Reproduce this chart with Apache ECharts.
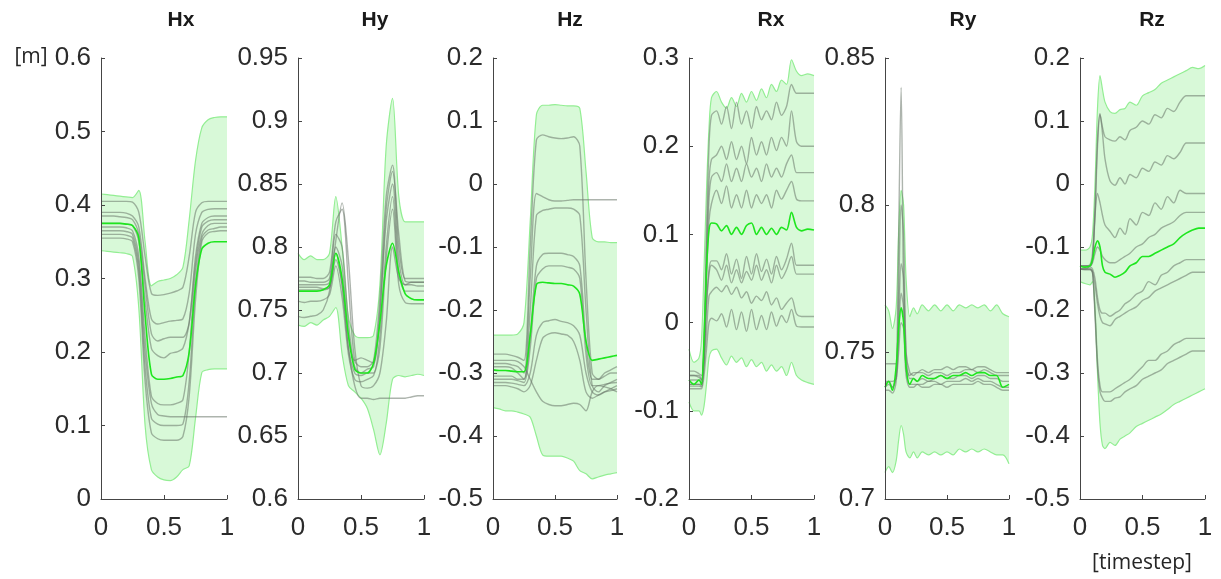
<!DOCTYPE html>
<html>
<head>
<meta charset="utf-8">
<script src="https://cdn.jsdelivr.net/npm/echarts@6/dist/echarts.min.js"></script>
<style>
html, body { margin: 0; background: #fff; }
#chart { width: 1221px; height: 579px; }
</style>
</head>
<body>
<div id="chart"></div>
<script>
// timestep samples
var xsH = [0, 0.05, 0.1, 0.15, 0.2, 0.25, 0.3, 0.35, 0.4, 0.45, 0.5, 0.55, 0.6, 0.65, 0.7, 0.75, 0.8, 0.85, 0.9, 0.95, 1];
var xsRx = [0, 0.04, 0.08, 0.1, 0.12, 0.14, 0.16, 0.18, 0.22, 0.26, 0.3, 0.34, 0.38, 0.42, 0.46, 0.5, 0.54, 0.58, 0.62, 0.66, 0.7, 0.74, 0.78, 0.82, 0.86, 0.9, 0.95, 1];
var xsRy = [0, 0.03, 0.06, 0.09, 0.11, 0.13, 0.15, 0.17, 0.2, 0.23, 0.26, 0.3, 0.35, 0.4, 0.45, 0.5, 0.55, 0.6, 0.65, 0.7, 0.75, 0.8, 0.85, 0.9, 0.95, 1];
var xsRz = [0, 0.04, 0.08, 0.1, 0.12, 0.14, 0.16, 0.18, 0.2, 0.24, 0.28, 0.32, 0.36, 0.4, 0.45, 0.5, 0.55, 0.6, 0.65, 0.7, 0.75, 0.8, 0.85, 0.9, 0.95, 1];

// Hx
var hxUpper = [0.415, 0.414, 0.413, 0.412, 0.411, 0.41, 0.42, 0.35, 0.29, 0.296, 0.298, 0.3, 0.305, 0.315, 0.38, 0.46, 0.505, 0.516, 0.519, 0.52, 0.52];
var hxLower = [0.338, 0.337, 0.336, 0.335, 0.334, 0.33, 0.26, 0.1, 0.04, 0.03, 0.026, 0.025, 0.03, 0.04, 0.045, 0.11, 0.172, 0.176, 0.177, 0.177, 0.177];
var hxMean = [0.375, 0.375, 0.375, 0.375, 0.374, 0.372, 0.355, 0.25, 0.17, 0.163, 0.163, 0.164, 0.166, 0.168, 0.2, 0.29, 0.34, 0.348, 0.35, 0.35, 0.35];
var hxGray = [
    [0.405, 0.405, 0.405, 0.405, 0.405, 0.404, 0.39, 0.33, 0.28, 0.277, 0.278, 0.28, 0.283, 0.288, 0.33, 0.39, 0.403, 0.405, 0.405, 0.405, 0.405],
    [0.39, 0.39, 0.39, 0.39, 0.389, 0.385, 0.37, 0.3, 0.245, 0.238, 0.24, 0.242, 0.243, 0.245, 0.28, 0.36, 0.39, 0.394, 0.395, 0.395, 0.395],
    [0.385, 0.385, 0.385, 0.384, 0.383, 0.38, 0.36, 0.29, 0.225, 0.215, 0.218, 0.22, 0.22, 0.22, 0.24, 0.33, 0.375, 0.383, 0.385, 0.385, 0.385],
    [0.375, 0.375, 0.375, 0.375, 0.374, 0.372, 0.35, 0.27, 0.205, 0.195, 0.192, 0.198, 0.2, 0.205, 0.24, 0.32, 0.37, 0.378, 0.38, 0.38, 0.38],
    [0.37, 0.37, 0.37, 0.37, 0.369, 0.365, 0.33, 0.22, 0.14, 0.13, 0.128, 0.128, 0.13, 0.135, 0.2, 0.31, 0.36, 0.372, 0.375, 0.375, 0.375],
    [0.365, 0.365, 0.365, 0.365, 0.364, 0.36, 0.32, 0.2, 0.13, 0.115, 0.113, 0.112, 0.112, 0.112, 0.112, 0.112, 0.112, 0.112, 0.112, 0.112, 0.112],
    [0.36, 0.36, 0.36, 0.36, 0.359, 0.355, 0.31, 0.18, 0.11, 0.102, 0.1, 0.1, 0.1, 0.102, 0.16, 0.29, 0.355, 0.366, 0.368, 0.37, 0.37],
    [0.355, 0.355, 0.355, 0.355, 0.354, 0.35, 0.3, 0.16, 0.09, 0.082, 0.08, 0.08, 0.08, 0.085, 0.14, 0.27, 0.35, 0.362, 0.364, 0.365, 0.365]
];

// Hy
var hyUpper = [0.795, 0.79, 0.793, 0.79, 0.79, 0.795, 0.84, 0.8, 0.745, 0.73, 0.728, 0.728, 0.73, 0.77, 0.88, 0.918, 0.84, 0.82, 0.82, 0.82, 0.82];
var hyLower = [0.738, 0.737, 0.74, 0.738, 0.742, 0.745, 0.752, 0.715, 0.69, 0.685, 0.68, 0.672, 0.655, 0.635, 0.66, 0.695, 0.698, 0.697, 0.698, 0.699, 0.698];
var hyMean = [0.765, 0.765, 0.765, 0.765, 0.766, 0.77, 0.795, 0.775, 0.73, 0.703, 0.7, 0.7, 0.708, 0.74, 0.785, 0.803, 0.78, 0.763, 0.759, 0.758, 0.758];
var hyGray = [
    [0.776, 0.776, 0.776, 0.775, 0.775, 0.78, 0.82, 0.83, 0.77, 0.71, 0.705, 0.705, 0.71, 0.76, 0.84, 0.865, 0.8, 0.775, 0.775, 0.775, 0.775],
    [0.773, 0.773, 0.772, 0.772, 0.772, 0.775, 0.81, 0.8, 0.74, 0.705, 0.7, 0.703, 0.705, 0.745, 0.83, 0.86, 0.81, 0.773, 0.772, 0.772, 0.772],
    [0.77, 0.77, 0.77, 0.77, 0.77, 0.772, 0.8, 0.785, 0.73, 0.71, 0.712, 0.71, 0.708, 0.75, 0.82, 0.85, 0.79, 0.77, 0.77, 0.769, 0.769],
    [0.768, 0.768, 0.768, 0.768, 0.767, 0.768, 0.79, 0.77, 0.72, 0.7, 0.698, 0.7, 0.7, 0.73, 0.8, 0.84, 0.78, 0.765, 0.765, 0.765, 0.765],
    [0.757, 0.756, 0.757, 0.757, 0.758, 0.762, 0.785, 0.76, 0.715, 0.695, 0.693, 0.695, 0.698, 0.72, 0.79, 0.83, 0.77, 0.756, 0.755, 0.755, 0.755],
    [0.745, 0.744, 0.745, 0.746, 0.75, 0.765, 0.805, 0.835, 0.79, 0.72, 0.69, 0.688, 0.69, 0.7, 0.74, 0.8, 0.775, 0.77, 0.772, 0.772, 0.772],
    [0.766, 0.766, 0.766, 0.766, 0.766, 0.768, 0.795, 0.77, 0.72, 0.69, 0.68, 0.68, 0.679, 0.68, 0.68, 0.68, 0.68, 0.68, 0.681, 0.682, 0.682]
];

// Hz
var hzUpper = [-0.24, -0.24, -0.24, -0.24, -0.238, -0.22, -0.06, 0.11, 0.125, 0.125, 0.126, 0.125, 0.124, 0.124, 0.12, 0.02, -0.085, -0.092, -0.092, -0.093, -0.093];
var hzLower = [-0.355, -0.357, -0.36, -0.36, -0.362, -0.365, -0.37, -0.4, -0.43, -0.432, -0.432, -0.432, -0.435, -0.44, -0.455, -0.46, -0.468, -0.465, -0.462, -0.46, -0.458];
var hzMean = [-0.295, -0.296, -0.296, -0.297, -0.298, -0.298, -0.24, -0.16, -0.156, -0.157, -0.158, -0.158, -0.16, -0.162, -0.175, -0.25, -0.28, -0.278, -0.276, -0.274, -0.272];
var hzGray = [
    [-0.27, -0.27, -0.27, -0.272, -0.275, -0.28, -0.1, 0.07, 0.078, 0.075, 0.073, 0.072, 0.073, 0.075, 0.06, -0.15, -0.3, -0.31, -0.3, -0.295, -0.29],
    [-0.285, -0.285, -0.285, -0.287, -0.29, -0.3, -0.15, -0.015, -0.02, -0.025, -0.027, -0.027, -0.026, -0.025, -0.025, -0.025, -0.025, -0.025, -0.025, -0.025, -0.025],
    [-0.29, -0.29, -0.29, -0.292, -0.3, -0.31, -0.2, -0.05, -0.042, -0.04, -0.038, -0.038, -0.038, -0.04, -0.05, -0.2, -0.32, -0.33, -0.32, -0.315, -0.31],
    [-0.305, -0.305, -0.305, -0.305, -0.31, -0.31, -0.24, -0.13, -0.112, -0.11, -0.11, -0.11, -0.112, -0.115, -0.13, -0.25, -0.31, -0.31, -0.305, -0.3, -0.3],
    [-0.31, -0.31, -0.31, -0.31, -0.312, -0.315, -0.26, -0.15, -0.135, -0.13, -0.13, -0.13, -0.132, -0.135, -0.15, -0.27, -0.32, -0.32, -0.318, -0.316, -0.315],
    [-0.315, -0.315, -0.315, -0.316, -0.318, -0.32, -0.3, -0.24, -0.22, -0.217, -0.215, -0.218, -0.22, -0.225, -0.24, -0.3, -0.33, -0.335, -0.33, -0.325, -0.32],
    [-0.32, -0.32, -0.32, -0.322, -0.325, -0.33, -0.32, -0.28, -0.245, -0.238, -0.236, -0.238, -0.24, -0.25, -0.28, -0.33, -0.34, -0.335, -0.33, -0.328, -0.325],
    [-0.28, -0.28, -0.28, -0.28, -0.282, -0.29, -0.31, -0.33, -0.345, -0.35, -0.352, -0.352, -0.35, -0.348, -0.35, -0.36, -0.33, -0.32, -0.322, -0.325, -0.33]
];

// Rx
var rxUpper = [-0.03, -0.045, -0.04, -0.02, 0.06, 0.15, 0.22, 0.255, 0.262, 0.25, 0.243, 0.255, 0.245, 0.26, 0.25, 0.262, 0.252, 0.265, 0.255, 0.27, 0.262, 0.275, 0.27, 0.298, 0.285, 0.28, 0.282, 0.28];
var rxLower = [-0.09, -0.1, -0.1, -0.105, -0.095, -0.07, -0.04, -0.032, -0.03, -0.04, -0.048, -0.038, -0.045, -0.04, -0.05, -0.042, -0.05, -0.045, -0.055, -0.048, -0.055, -0.05, -0.06, -0.045, -0.06, -0.065, -0.068, -0.07];
var rxMean = [-0.065, -0.07, -0.065, -0.07, -0.02, 0.06, 0.105, 0.113, 0.112, 0.104, 0.11, 0.1, 0.108, 0.1, 0.11, 0.113, 0.1, 0.108, 0.1, 0.107, 0.1, 0.108, 0.105, 0.125, 0.108, 0.104, 0.106, 0.105];
var rxGray = [
    [-0.06, -0.06, -0.06, -0.065, -0.02, 0.1, 0.2, 0.235, 0.24, 0.225, 0.245, 0.22, 0.25, 0.225, 0.24, 0.22, 0.245, 0.23, 0.24, 0.23, 0.25, 0.235, 0.245, 0.27, 0.26, 0.26, 0.26, 0.26],
    [-0.065, -0.065, -0.065, -0.068, -0.03, 0.08, 0.16, 0.185, 0.19, 0.2, 0.185, 0.205, 0.185, 0.2, 0.18, 0.21, 0.19, 0.205, 0.19, 0.21, 0.195, 0.21, 0.2, 0.24, 0.205, 0.2, 0.2, 0.2],
    [-0.07, -0.07, -0.07, -0.07, -0.035, 0.06, 0.14, 0.165, 0.17, 0.16, 0.18, 0.16, 0.175, 0.16, 0.18, 0.165, 0.175, 0.16, 0.18, 0.165, 0.175, 0.165, 0.18, 0.19, 0.17, 0.17, 0.17, 0.17],
    [-0.072, -0.072, -0.072, -0.073, -0.04, 0.05, 0.115, 0.135, 0.15, 0.135, 0.155, 0.13, 0.145, 0.13, 0.15, 0.13, 0.145, 0.135, 0.145, 0.13, 0.15, 0.14, 0.15, 0.16, 0.14, 0.138, 0.138, 0.138],
    [-0.06, -0.06, -0.062, -0.065, -0.04, 0.02, 0.06, 0.07, 0.07, 0.06, 0.078, 0.055, 0.072, 0.05, 0.075, 0.055, 0.078, 0.058, 0.072, 0.055, 0.075, 0.06, 0.072, 0.09, 0.065, 0.065, 0.065, 0.065],
    [-0.055, -0.055, -0.058, -0.06, -0.035, 0.02, 0.055, 0.065, 0.06, 0.048, 0.065, 0.045, 0.06, 0.045, 0.058, 0.048, 0.065, 0.048, 0.06, 0.045, 0.065, 0.05, 0.06, 0.075, 0.055, 0.055, 0.055, 0.055],
    [-0.07, -0.07, -0.07, -0.072, -0.05, -0.01, 0.03, 0.035, 0.04, 0.035, 0.042, 0.032, 0.04, 0.028, 0.035, 0.022, 0.03, 0.025, 0.035, 0.02, 0.028, 0.015, 0.022, 0.028, 0.01, 0.007, 0.007, 0.007],
    [-0.075, -0.075, -0.075, -0.075, -0.06, -0.03, 0.0, 0.005, 0.002, 0.01, -0.005, 0.015, -0.008, 0.012, -0.01, 0.015, -0.008, 0.008, -0.008, 0.012, -0.004, 0.008, 0.0, 0.015, -0.004, -0.005, -0.005, -0.005]
];

// Ry
var ryUpper = [0.766, 0.764, 0.758, 0.765, 0.79, 0.805, 0.8, 0.775, 0.762, 0.765, 0.763, 0.766, 0.764, 0.766, 0.764, 0.766, 0.764, 0.766, 0.765, 0.766, 0.765, 0.766, 0.764, 0.766, 0.763, 0.762];
var ryLower = [0.709, 0.711, 0.709, 0.713, 0.72, 0.725, 0.722, 0.716, 0.714, 0.716, 0.714, 0.716, 0.715, 0.716, 0.715, 0.716, 0.715, 0.717, 0.716, 0.717, 0.716, 0.717, 0.716, 0.715, 0.715, 0.712];
var ryMean = [0.738, 0.74, 0.737, 0.745, 0.758, 0.765, 0.76, 0.745, 0.739, 0.741, 0.74, 0.742, 0.741, 0.741, 0.742, 0.741, 0.742, 0.742, 0.743, 0.742, 0.743, 0.743, 0.742, 0.742, 0.738, 0.739];
var ryGray = [
    [0.74, 0.74, 0.738, 0.742, 0.79, 0.84, 0.77, 0.745, 0.742, 0.743, 0.743, 0.744, 0.743, 0.744, 0.744, 0.745, 0.744, 0.745, 0.745, 0.744, 0.745, 0.745, 0.744, 0.743, 0.743, 0.743],
    [0.746, 0.746, 0.746, 0.746, 0.77, 0.8, 0.79, 0.75, 0.743, 0.742, 0.743, 0.743, 0.742, 0.743, 0.743, 0.742, 0.743, 0.743, 0.744, 0.744, 0.743, 0.744, 0.743, 0.742, 0.742, 0.742],
    [0.738, 0.739, 0.738, 0.742, 0.76, 0.78, 0.775, 0.75, 0.741, 0.741, 0.74, 0.741, 0.74, 0.741, 0.742, 0.741, 0.741, 0.742, 0.742, 0.741, 0.742, 0.742, 0.741, 0.741, 0.74, 0.74],
    [0.737, 0.737, 0.736, 0.74, 0.755, 0.77, 0.765, 0.745, 0.739, 0.739, 0.739, 0.739, 0.74, 0.74, 0.739, 0.74, 0.74, 0.74, 0.741, 0.74, 0.741, 0.74, 0.74, 0.739, 0.738, 0.738],
    [0.739, 0.74, 0.74, 0.741, 0.75, 0.76, 0.758, 0.742, 0.738, 0.738, 0.739, 0.738, 0.738, 0.739, 0.739, 0.738, 0.739, 0.739, 0.739, 0.739, 0.74, 0.739, 0.739, 0.738, 0.737, 0.737]
];

// Rz
var rzUpper = [-0.105, -0.105, -0.1, -0.08, 0.0, 0.12, 0.172, 0.15, 0.13, 0.115, 0.112, 0.118, 0.12, 0.13, 0.125, 0.14, 0.145, 0.15, 0.16, 0.165, 0.17, 0.175, 0.18, 0.185, 0.183, 0.188];
var rzLower = [-0.155, -0.158, -0.16, -0.155, -0.2, -0.3, -0.38, -0.415, -0.42, -0.41, -0.415, -0.405, -0.4, -0.395, -0.385, -0.38, -0.375, -0.37, -0.365, -0.358, -0.35, -0.345, -0.34, -0.335, -0.33, -0.325];
var rzMean = [-0.13, -0.132, -0.13, -0.12, -0.1, -0.09, -0.1, -0.13, -0.14, -0.143, -0.148, -0.145, -0.14, -0.13, -0.125, -0.115, -0.115, -0.11, -0.105, -0.1, -0.095, -0.085, -0.078, -0.073, -0.07, -0.07];
var rzGray = [
    [-0.13, -0.13, -0.13, -0.12, -0.05, 0.06, 0.11, 0.09, 0.075, 0.07, 0.068, 0.075, 0.07, 0.085, 0.09, 0.1, 0.095, 0.11, 0.105, 0.12, 0.115, 0.13, 0.14, 0.14, 0.14, 0.14],
    [-0.135, -0.135, -0.13, -0.12, -0.04, 0.07, 0.112, 0.08, 0.04, 0.005, -0.002, 0.01, 0.0, 0.015, 0.01, 0.025, 0.02, 0.035, 0.03, 0.045, 0.04, 0.05, 0.065, 0.065, 0.065, 0.065],
    [-0.13, -0.13, -0.128, -0.11, -0.05, -0.015, -0.03, -0.05, -0.065, -0.075, -0.085, -0.07, -0.08, -0.055, -0.065, -0.045, -0.05, -0.03, -0.04, -0.02, -0.03, -0.01, -0.015, -0.015, -0.015, -0.015],
    [-0.13, -0.13, -0.13, -0.125, -0.11, -0.1, -0.105, -0.115, -0.12, -0.125, -0.125, -0.12, -0.115, -0.11, -0.1, -0.095, -0.085, -0.08, -0.07, -0.065, -0.06, -0.05, -0.045, -0.045, -0.045, -0.045],
    [-0.13, -0.132, -0.132, -0.135, -0.15, -0.18, -0.2, -0.205, -0.205, -0.21, -0.205, -0.2, -0.19, -0.185, -0.175, -0.17, -0.155, -0.16, -0.145, -0.14, -0.13, -0.125, -0.12, -0.12, -0.12, -0.12],
    [-0.135, -0.135, -0.135, -0.14, -0.16, -0.19, -0.21, -0.22, -0.222, -0.225, -0.215, -0.21, -0.205, -0.2, -0.195, -0.185, -0.18, -0.17, -0.165, -0.16, -0.155, -0.15, -0.145, -0.14, -0.14, -0.14],
    [-0.135, -0.135, -0.135, -0.14, -0.2, -0.28, -0.32, -0.33, -0.33, -0.33, -0.325, -0.32, -0.315, -0.31, -0.3, -0.29, -0.28, -0.28, -0.27, -0.265, -0.255, -0.25, -0.245, -0.245, -0.245, -0.245],
    [-0.135, -0.136, -0.136, -0.14, -0.21, -0.29, -0.33, -0.34, -0.345, -0.345, -0.34, -0.338, -0.33, -0.325, -0.32, -0.31, -0.305, -0.3, -0.295, -0.285, -0.28, -0.275, -0.27, -0.265, -0.265, -0.265]
];

var panels = [
    { name: 'Hx', xs: xsH, upper: hxUpper, lower: hxLower, mean: hxMean, gray: hxGray, min: 0, max: 0.6, step: 0.1, left: 101, width: 126, titleX: 181 },
    { name: 'Hy', xs: xsH, upper: hyUpper, lower: hyLower, mean: hyMean, gray: hyGray, min: 0.6, max: 0.95, step: 0.05, left: 298, width: 126, titleX: 375 },
    { name: 'Hz', xs: xsH, upper: hzUpper, lower: hzLower, mean: hzMean, gray: hzGray, min: -0.5, max: 0.2, step: 0.1, left: 493, width: 124, titleX: 570 },
    { name: 'Rx', xs: xsRx, upper: rxUpper, lower: rxLower, mean: rxMean, gray: rxGray, min: -0.2, max: 0.3, step: 0.1, left: 689, width: 125, titleX: 771 },
    { name: 'Ry', xs: xsRy, upper: ryUpper, lower: ryLower, mean: ryMean, gray: ryGray, min: 0.7, max: 0.85, step: 0.05, left: 885, width: 124, titleX: 963 },
    { name: 'Rz', xs: xsRz, upper: rzUpper, lower: rzLower, mean: rzMean, gray: rzGray, min: -0.5, max: 0.2, step: 0.1, left: 1080, width: 125, titleX: 1152 }
];

var axisColor = '#454545';
var labelStyle = { fontSize: 26, color: '#2b2b2b', fontFamily: 'Liberation Sans' };
var bandFill = '#d8f9d8';
var bandEdge = '#93ee93';
var grayColor = 'rgba(105,118,105,0.55)';
var meanColor = '#1ee61e';

var chart = echarts.init(document.getElementById('chart'));
var grids = [], xAxes = [], yAxes = [], series = [], graphics = [];

panels.forEach(function (p, i) {
    function pts(arr) {
        return p.xs.map(function (x, k) { return [x, arr[k]]; });
    }

    grids.push({ left: p.left, top: 58, width: p.width, height: 441 });

    xAxes.push({
        gridIndex: i, type: 'value', min: 0, max: 1, interval: 0.5, z: 5,
        axisLine: { onZero: false, lineStyle: { color: axisColor, width: 1 } },
        axisTick: { inside: true, length: 4, lineStyle: { color: axisColor } },
        axisLabel: Object.assign({ margin: 16 }, labelStyle),
        splitLine: { show: false }
    });

    yAxes.push({
        gridIndex: i, type: 'value', min: p.min, max: p.max, interval: p.step, z: 5,
        axisLine: { show: true, onZero: false, lineStyle: { color: axisColor, width: 1 } },
        axisTick: { show: true, inside: true, length: 4, lineStyle: { color: axisColor } },
        axisLabel: Object.assign({ margin: 10 }, labelStyle),
        splitLine: { show: false }
    });

    // band: upper filled down, lower painted white down
    series.push({
        type: 'line', xAxisIndex: i, yAxisIndex: i, data: pts(p.upper),
        smooth: 0.3, symbol: 'none', z: 1, silent: true,
        lineStyle: { color: bandEdge, width: 1.2 },
        areaStyle: { color: bandFill, origin: 'start', opacity: 1 }
    });
    series.push({
        type: 'line', xAxisIndex: i, yAxisIndex: i, data: pts(p.lower),
        smooth: 0.3, symbol: 'none', z: 1, silent: true,
        lineStyle: { color: bandEdge, width: 1.2 },
        areaStyle: { color: '#ffffff', origin: 'start', opacity: 1 }
    });

    p.gray.forEach(function (g) {
        series.push({
            type: 'line', xAxisIndex: i, yAxisIndex: i, data: pts(g),
            smooth: 0.3, symbol: 'none', z: 2, silent: true,
            lineStyle: { color: grayColor, width: 1.4 }
        });
    });

    series.push({
        type: 'line', xAxisIndex: i, yAxisIndex: i, data: pts(p.mean),
        smooth: 0.3, symbol: 'none', z: 3, silent: true,
        lineStyle: { color: meanColor, width: 1.6 }
    });

    graphics.push({
        type: 'text', x: p.titleX, y: 20,
        style: { text: p.name, font: 'bold 21px "Liberation Sans"', fill: '#1a1a1a', align: 'center', verticalAlign: 'middle' }
    });
});

graphics.push({
    type: 'text', x: 31, y: 57,
    style: { text: '[m]', font: '21px "Open Sans"', fill: '#262626', align: 'center', verticalAlign: 'middle' }
});
graphics.push({
    type: 'text', x: 1142, y: 563,
    style: { text: '[timestep]', font: '21px "Open Sans"', fill: '#262626', align: 'center', verticalAlign: 'middle' }
});

chart.setOption({
    animation: false,
    backgroundColor: '#ffffff',
    grid: grids,
    xAxis: xAxes,
    yAxis: yAxes,
    series: series,
    graphic: graphics
});
</script>
</body>
</html>
